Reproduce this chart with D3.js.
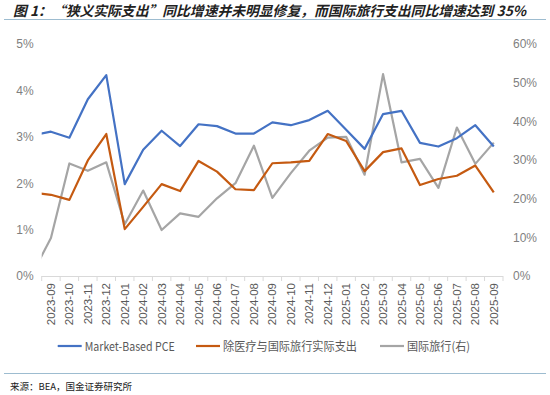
<!DOCTYPE html>
<html>
<head>
<meta charset="utf-8">
<script src="https://cdn.jsdelivr.net/npm/d3@7"></script>
<style>
  body { margin: 0; background: #fff; }
  svg { font-family: "Noto Sans CJK SC", "Noto Sans", sans-serif; }
</style>
</head>
<body>
<div id="chart"></div>
<script>
// months on the x axis
var months = ["2023-09","2023-10","2023-11","2023-12","2024-01","2024-02","2024-03","2024-04",
  "2024-05","2024-06","2024-07","2024-08","2024-09","2024-10","2024-11","2024-12",
  "2025-01","2025-02","2025-03","2025-04","2025-05","2025-06","2025-07","2025-08","2025-09"];

// yoy, % (left axis)
var pce = [3.11,2.98,3.81,4.33,1.98,2.72,3.13,2.80,3.27,3.23,3.07,3.07,3.31,3.25,3.36,3.56,
  3.15,2.74,3.49,3.56,2.87,2.79,2.97,3.25,2.79];
var realSpend = [1.75,1.64,2.49,3.06,1.01,1.49,1.98,1.83,2.48,2.25,1.87,1.85,2.43,2.45,2.48,3.06,
  2.91,2.26,2.67,2.75,1.96,2.09,2.16,2.38,1.80];
// yoy, % (right axis)
var travel = [9.8,29.1,27.2,29.4,13.4,22.1,11.9,16.2,15.3,20.1,24.0,33.7,20.2,26.6,32.4,35.8,
  36.0,26.2,52.2,29.4,30.3,22.8,38.4,29.0,34.5];

// the previous month (2023-08) sits outside the plot, only its line stub shows
var prevMonth = { pce: 3.03, realSpend: 1.80, travel: 0.7 };

var leftTicks = [0, 1, 2, 3, 4, 5];
var rightTicks = [0, 10, 20, 30, 40, 50, 60];

(function() {
var width = 550, height = 395;
var pL = 41.7, pR = 503, pT = 44, pB = 276;

var svg = d3.select("#chart").append("svg")
  .attr("width", width).attr("height", height);

// title + rules
svg.append("text")
  .attr("x", 13).attr("y", 15.5)
  .attr("font-size", 13.8).attr("font-weight", "bold").attr("font-style", "italic")
  .attr("fill", "#222")
  .text("图 1：“狭义实际支出”同比增速并未明显修复，而国际旅行支出同比增速达到 35%");
svg.append("line").attr("x1", 4).attr("x2", 546).attr("y1", 19.5).attr("y2", 19.5)
  .attr("stroke", "#9dbcd0").attr("stroke-width", 1);
svg.append("line").attr("x1", 4).attr("x2", 546).attr("y1", 373.5).attr("y2", 373.5)
  .attr("stroke", "#9dbcd0").attr("stroke-width", 1);
svg.append("text")
  .attr("x", 10).attr("y", 390)
  .attr("font-size", 9.5).attr("fill", "#222")
  .text("来源：BEA，国金证券研究所");

var x = d3.scaleBand().domain(months).range([pL, pR]).padding(0);
var yL = d3.scaleLinear().domain([0, 5]).range([pB, pT]);
var yR = d3.scaleLinear().domain([0, 60]).range([pB, pT]);
var cx = function(i) { return x(months[0]) + x.bandwidth() / 2 + i * x.step(); };

// axes
var gl = svg.append("g").attr("transform", "translate(" + pL + ",0)")
  .call(d3.axisLeft(yL).tickValues(leftTicks).tickSize(0).tickPadding(8)
    .tickFormat(function(d) { return d + "%"; }));
gl.select(".domain").remove();
var gr = svg.append("g").attr("transform", "translate(" + pR + ",0)")
  .call(d3.axisRight(yR).tickValues(rightTicks).tickSize(0).tickPadding(10)
    .tickFormat(function(d) { return d + "%"; }));
gr.select(".domain").remove();
svg.selectAll("g text").attr("font-size", 12).attr("fill", "#7f7f7f")
  .attr("font-family", "'Liberation Sans', Arial, sans-serif");

svg.append("line").attr("x1", pL).attr("x2", pR).attr("y1", pB + 0.5).attr("y2", pB + 0.5)
  .attr("stroke", "#d9d9d9");
svg.append("g").selectAll("line")
  .data(d3.range(months.length + 1))
  .enter().append("line")
  .attr("x1", function(i) { return pL + i * x.step(); })
  .attr("x2", function(i) { return pL + i * x.step(); })
  .attr("y1", pB).attr("y2", pB + 5)
  .attr("stroke", "#d9d9d9");

svg.append("g").selectAll("text")
  .data(months).enter().append("text")
  .attr("transform", function(d) {
    return "translate(" + (x(d) + x.bandwidth() / 2 + 4) + "," + (pB + 7) + ") rotate(-90)";
  })
  .attr("text-anchor", "end")
  .attr("font-size", 11.5).attr("fill", "#595959")
  .attr("font-family", "'Liberation Sans', Arial, sans-serif")
  .text(function(d) { return d; });

// lines
svg.append("clipPath").attr("id", "plot")
  .append("rect").attr("x", pL).attr("y", 0).attr("width", pR - pL + 10).attr("height", pB + 2);

var series = [
  { name: "Market-Based PCE", values: pce, prev: prevMonth.pce, y: yL, color: "#4472c4" },
  { name: "除医疗与国际旅行实际支出", values: realSpend, prev: prevMonth.realSpend, y: yL, color: "#c55a11" },
  { name: "国际旅行(右)", values: travel, prev: prevMonth.travel, y: yR, color: "#a5a5a5" }
];

var plot = svg.append("g").attr("clip-path", "url(#plot)");
series.slice().reverse().forEach(function(s) {
  var pts = [[cx(-1), s.y(s.prev)]].concat(s.values.map(function(v, i) { return [cx(i), s.y(v)]; }));
  plot.append("path")
    .attr("d", d3.line()(pts))
    .attr("fill", "none")
    .attr("stroke", s.color)
    .attr("stroke-width", 2.2)
    .attr("stroke-linejoin", "round");
});

// legend
var legendX = [57.7, 196, 380];
var legendW = [90, 134, 63];
var lg = svg.append("g").selectAll("g").data(series).enter().append("g")
  .attr("transform", function(d, i) { return "translate(" + legendX[i] + ",346)"; });
lg.append("line").attr("x1", 0).attr("x2", 24).attr("y1", 0).attr("y2", 0)
  .attr("stroke", function(d) { return d.color; }).attr("stroke-width", 2.2);
lg.append("text").attr("x", 27).attr("y", 4.5)
  .attr("font-size", 12).attr("fill", "#595959")
  .attr("textLength", function(d, i) { return legendW[i]; })
  .attr("lengthAdjust", "spacingAndGlyphs")
  .text(function(d) { return d.name; });
})();
</script>
</body>
</html>
